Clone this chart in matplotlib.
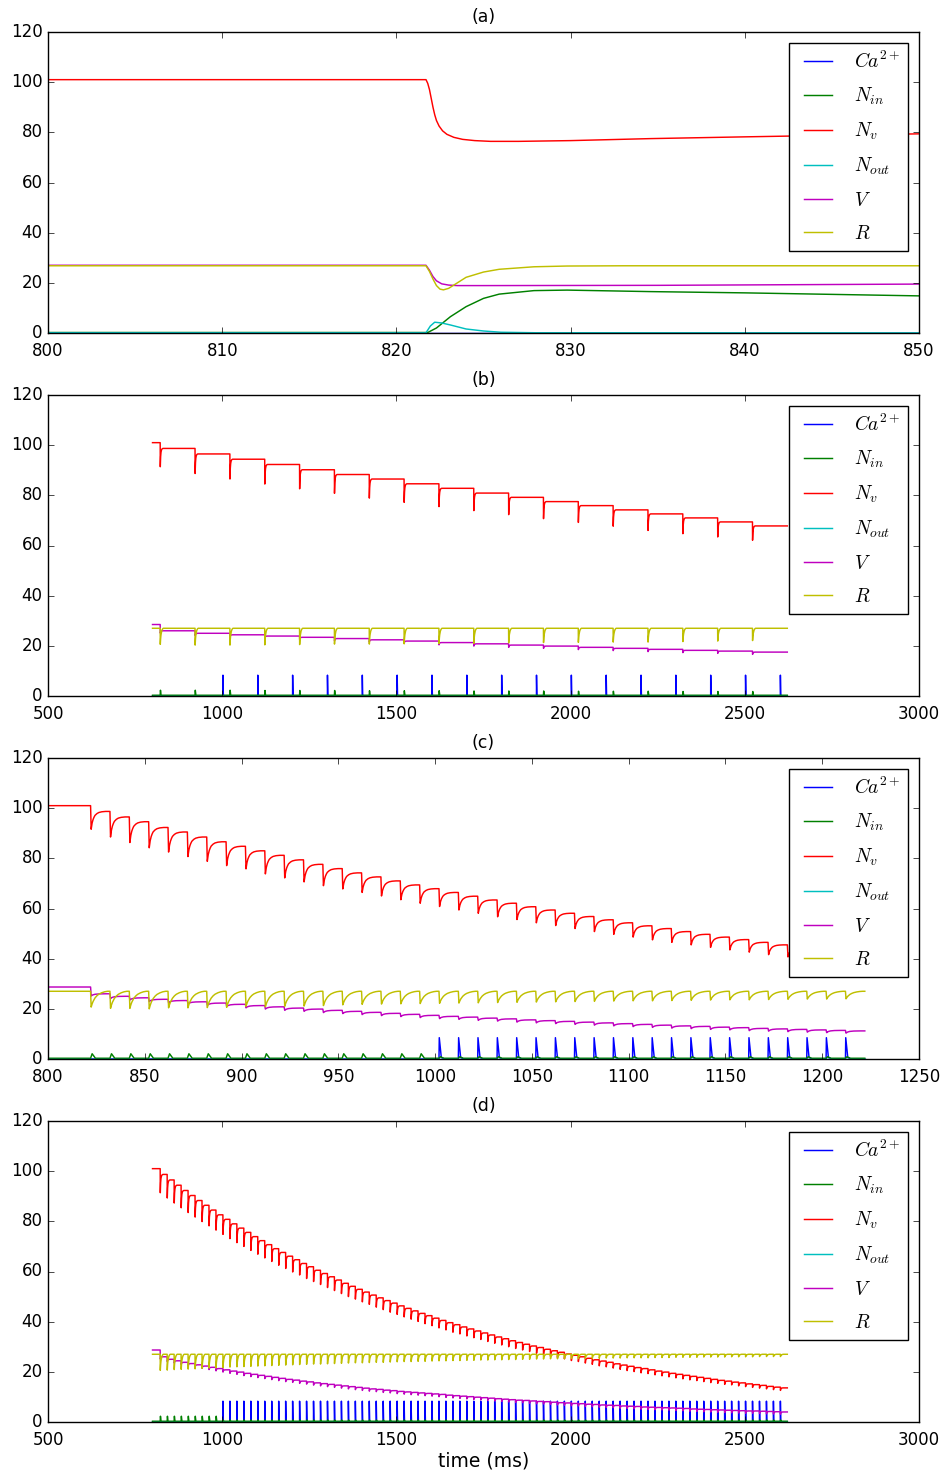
import numpy as np
import matplotlib
matplotlib.use('Agg')
import matplotlib.pyplot as plt
from matplotlib.legend_handler import HandlerLine2D

plt.style.use('classic')
plt.rcParams['font.family'] = ['DejaVu Sans']
plt.rcParams['mathtext.fontset'] = 'cm'

# ---------------- colours / labels ----------------
series_labels = [r'$Ca^{2+}$', r'$N_{in}$', r'$N_v$', r'$N_{out}$', r'$V$', r'$R$']
series_colors = ['#0000ff', '#008000', '#ff0000', '#00bfbf', '#bf00bf', '#bfbf00']
panel_titles = ['(a)', '(b)', '(c)', '(d)']

# ---------------- panel (a): single release event ----------------
a_t_ca = [800, 850]
a_ca = [0.0, 0.0]
a_t_nin = [800, 821.8, 822.3, 823.1, 824.0, 825.0, 825.9, 827.9, 829.8, 834.6, 840, 845, 850]
a_nin = [0.2, 0.2, 2.0, 6.5, 10.5, 13.8, 15.5, 16.9, 17.1, 16.5, 16.0, 15.4, 14.8]
a_t_nv = [800, 821.7, 821.8, 821.9, 822.0, 822.1, 822.2, 822.3, 822.45, 822.65, 822.9,
          823.3, 823.8, 824.5, 825.4, 827, 830, 834.6, 840, 845, 850]
a_nv = [101, 101, 99.5, 97.0, 93.5, 90.0, 87.0, 84.7, 82.5, 80.6, 79.2,
        78.0, 77.2, 76.7, 76.4, 76.4, 76.7, 77.5, 78.2, 78.8, 79.4]
a_t_nout = [800, 821.7, 821.95, 822.2, 822.6, 823.1, 824.0, 825.0, 826.0, 828.0, 850]
a_nout = [0.1, 0.1, 2.8, 4.3, 4.0, 3.2, 1.6, 0.8, 0.3, 0.1, 0.05]
a_t_v = [800, 821.7, 821.9, 822.1, 822.3, 822.6, 823.0, 823.5, 825, 835, 850]
a_v = [27.0, 27.0, 25.0, 22.5, 20.8, 19.6, 19.1, 18.9, 18.9, 19.0, 19.5]
a_t_r = [800, 821.7, 821.9, 822.1, 822.3, 822.5, 822.7, 823.0, 823.5, 824.0, 825.0,
         825.9, 827.9, 829.8, 833.0, 850]
a_r = [26.8, 26.8, 24.5, 21.5, 18.9, 17.5, 17.2, 17.8, 20.0, 22.2, 24.3,
       25.4, 26.4, 26.7, 26.8, 26.8]

# ---------------- panel (b): 100 ms stimulation ----------------
b_start, b_end = 800, 2622
b_stim_first, b_stim_period, b_n_stim = 822, 100, 18
b_ca_first, b_ca_period, b_n_ca = 1002, 100, 17
b_nv_levels = [101.0, 98.7, 96.5, 94.4, 92.3, 90.2, 88.3, 86.5, 84.6, 82.8, 80.9,
               79.2, 77.5, 75.9, 74.2, 72.6, 71.0, 69.4, 67.8]
b_nv_dips = [91.4, 88.7, 86.5, 84.5, 82.6, 80.8, 78.9, 77.2, 75.5, 73.9, 72.3,
             70.7, 69.2, 67.7, 66.0, 64.7, 63.4, 62.1]
b_v_levels = [28.5, 26.0, 25.0, 24.4, 23.9, 23.4, 22.9, 22.4, 21.9, 21.3, 20.8,
              20.3, 19.9, 19.4, 19.0, 18.6, 18.2, 17.9, 17.5]
b_r_dips = [20.6, 20.3, 20.3, 20.4, 20.5, 20.7, 20.7, 20.8, 20.9, 21.0, 21.2,
            21.3, 21.4, 21.5, 21.5, 21.7, 21.9, 22.1]
b_nin_bumps = [2.0, 2.0, 2.0, 1.9, 1.9, 1.9, 1.8, 1.8, 1.8, 1.7, 1.7, 1.7, 1.6, 1.6, 1.6, 1.5, 1.5, 1.5]
b_ca_height = 8.3

# ---------------- panel (c): 10 ms stimulation ----------------
c_start, c_end = 800, 1222
c_stim_first, c_stim_period, c_n_stim = 822, 10, 40
c_ca_first, c_ca_period, c_n_ca = 1002, 10, 22
c_nv_levels = [101.0, 98.7, 96.5, 94.6, 92.3, 90.5, 88.5, 86.6, 84.8, 83.0, 81.2,
               79.4, 77.6, 75.9, 74.2, 72.6, 71.0, 69.4, 67.9, 66.4, 64.9, 63.4,
               62.1, 60.7, 59.4, 58.1, 56.8, 55.5, 54.3, 53.1, 52.0, 50.8, 49.7,
               48.6, 47.6, 46.5, 45.5, 44.5, 43.5, 42.6, 41.6]
c_nv_dips = [91.6, 88.5, 86.3, 84.2, 82.5, 80.7, 78.8, 77.1, 75.8, 73.8, 72.2,
             70.6, 69.1, 67.8, 66.4, 65.0, 63.5, 62.1, 60.8, 59.4, 58.1, 56.7,
             55.6, 54.3, 53.2, 52.0, 50.8, 49.7, 48.6, 47.5, 46.5, 45.5, 44.5,
             43.5, 42.6, 41.6, 40.7, 39.8, 38.9, 38.1]
c_v_levels = [28.7, 26.0, 25.0, 24.4, 23.8, 23.3, 22.8, 22.3, 21.8, 21.3, 20.8,
              20.3, 19.9, 19.4, 19.0, 18.6, 18.2, 17.8, 17.4, 17.0, 16.7, 16.3,
              16.0, 15.6, 15.3, 15.0, 14.7, 14.4, 14.1, 13.8, 13.5, 13.2, 13.0,
              12.7, 12.5, 12.2, 12.0, 11.8, 11.6, 11.4, 11.2]
c_r_dips = [20.7, 20.2, 20.2, 20.0, 20.4, 20.4, 20.5, 20.6, 21.0, 20.8, 21.0,
            21.1, 21.3, 21.6, 21.8, 21.9, 22.0, 22.1, 22.2, 22.3, 22.4, 22.5,
            22.6, 22.7, 22.8, 22.9, 23.0, 23.1, 23.2, 23.2, 23.3, 23.4, 23.5,
            23.6, 23.6, 23.7, 23.8, 23.9, 23.9, 24.0]
c_nin_bump_early, c_nin_bump_late = 1.8, 0.6
c_ca_height = 8.5

# ---------------- panel (d): 20 ms stimulation ----------------
d_start, d_end = 800, 2622
d_stim_first, d_stim_period, d_n_stim = 822, 20, 90
d_ca_first, d_ca_period, d_n_ca = 1002, 20, 81
d_nv_levels = [101.0, 98.7, 96.5, 94.4, 92.3, 90.3, 88.3, 86.4, 84.5, 82.6, 80.8,
               79.0, 77.3, 75.6, 73.9, 72.3, 70.7, 69.1, 67.6, 66.1, 64.7,
               63.2, 61.9, 60.5, 59.2, 57.9, 56.6, 55.3, 54.1, 52.9, 51.8,
               50.6, 49.5, 48.4, 47.4, 46.3, 45.3, 44.3, 43.3, 42.4, 41.4,
               40.5, 39.6, 38.8, 37.9, 37.1, 36.3, 35.5, 34.7, 33.9, 33.2,
               32.4, 31.7, 31.0, 30.3, 29.7, 29.0, 28.4, 27.8, 27.1, 26.6,
               26.0, 25.4, 24.8, 24.3, 23.8, 23.2, 22.7, 22.2, 21.7, 21.3,
               20.8, 20.3, 19.9, 19.4, 19.0, 18.6, 18.2, 17.8, 17.4, 17.0,
               16.6, 16.3, 15.9, 15.6, 15.2, 14.9, 14.6, 14.2, 13.9, 13.6]
d_nv_dips = [91.4, 89.3, 87.3, 85.4, 83.5, 81.7, 79.9, 78.2, 76.5, 74.8,
             73.1, 71.5, 70.0, 68.4, 66.9, 65.4, 64.0, 62.5, 61.2, 59.8,
             58.6, 57.2, 56.0, 54.8, 53.6, 52.4, 51.2, 50.0, 49.0, 47.9,
             46.9, 45.8, 44.8, 43.8, 42.9, 41.9, 41.0, 40.1, 39.2, 38.4,
             37.5, 36.7, 35.8, 35.1, 34.3, 33.6, 32.9, 32.1, 31.4, 30.7,
             30.0, 29.3, 28.7, 28.1, 27.4, 26.9, 26.2, 25.7, 25.2, 24.5,
             24.1, 23.5, 23.0, 22.4, 22.0, 21.5, 21.0, 20.5, 20.1, 19.6,
             19.3, 18.8, 18.4, 18.0, 17.6, 17.2, 16.8, 16.5, 16.1, 15.7,
             15.4, 15.0, 14.8, 14.4, 14.1, 13.8, 13.5, 13.2, 12.9, 12.6]
d_v_levels = [28.7, 26.0, 25.0, 24.4, 23.8, 23.3, 22.8, 22.3, 21.8, 21.3, 20.8,
              20.3, 19.9, 19.4, 19.0, 18.6, 18.2, 17.8, 17.4, 17.0, 16.7,
              16.3, 16.0, 15.6, 15.3, 15.0, 14.7, 14.4, 14.1, 13.8, 13.5,
              13.2, 13.0, 12.7, 12.5, 12.2, 12.0, 11.8, 11.6, 11.4, 11.2,
              11.0, 10.7, 10.5, 10.3, 10.1, 9.9, 9.7, 9.5, 9.3, 9.1,
              8.9, 8.7, 8.6, 8.4, 8.2, 8.1, 7.9, 7.7, 7.6, 7.4,
              7.3, 7.1, 7.0, 6.8, 6.7, 6.6, 6.4, 6.3, 6.2, 6.0,
              5.9, 5.8, 5.7, 5.6, 5.5, 5.4, 5.2, 5.1, 5.0, 4.9,
              4.8, 4.7, 4.6, 4.5, 4.4, 4.4, 4.3, 4.2, 4.1, 4.0]
d_r_dips = [20.6, 20.7, 20.9, 21.0, 21.1, 21.2, 21.4, 21.5, 21.6, 21.7,
            21.9, 22.0, 22.1, 22.2, 22.3, 22.4, 22.5, 22.6, 22.7, 22.8,
            22.9, 23.0, 23.1, 23.1, 23.2, 23.3, 23.4, 23.5, 23.6, 23.6,
            23.7, 23.8, 23.8, 23.9, 24.0, 24.1, 24.1, 24.2, 24.2, 24.3,
            24.4, 24.4, 24.5, 24.5, 24.6, 24.6, 24.7, 24.7, 24.8, 24.8,
            24.9, 24.9, 25.0, 25.0, 25.1, 25.1, 25.2, 25.2, 25.2, 25.3,
            25.3, 25.3, 25.4, 25.4, 25.5, 25.5, 25.5, 25.6, 25.6, 25.6,
            25.6, 25.7, 25.7, 25.7, 25.8, 25.8, 25.8, 25.8, 25.9, 25.9,
            25.9, 25.9, 26.0, 26.0, 26.0, 26.0, 26.1, 26.1, 26.1, 26.1]
d_nin_bump_early, d_nin_bump_late = 2.0, 0.5
d_ca_height = 8.3

r_rest = 27.0
v_dip_depth = 0.9
nin_base, nout_base = 0.3, 0.15

# shape templates (ms after the drop, fraction recovered)
rec_dt = [0.0, 0.5, 1.0, 1.5, 2.0, 3.0, 4.0, 5.5, 7.5]
rec_frac = [0.0, 0.35, 0.55, 0.68, 0.78, 0.88, 0.94, 0.98, 1.0]
r_rec_dt = [0.0, 0.5, 1.0, 2.0, 3.0, 4.0, 5.5, 7.0, 8.5]
r_rec_frac = [0.0, 0.2, 0.36, 0.58, 0.72, 0.82, 0.91, 0.97, 1.0]
drop_dt = 0.3


def sawtooth(t0, t1, stims, before, after, low, rdt, rfr):
    ts, ys = [t0], [before[0]]
    for s, b, a, lo in zip(stims, before, after, low):
        ts += [s, s + drop_dt]
        ys += [b, lo]
        for dt, f in zip(rdt[1:], rfr[1:]):
            ts.append(s + drop_dt + dt)
            ys.append(lo + (a - lo) * f)
    ts.append(max(t1, ts[-1]))
    ys.append(ys[-1])
    return ts, ys


def bumps(t0, t1, times, heights, base, shape_dt, shape_frac):
    ts, ys = [t0], [base]
    for s, h in zip(times, heights):
        for dt, f in zip(shape_dt, shape_frac):
            ts.append(s + dt)
            ys.append(base + h * f)
    ts.append(max(t1, ts[-1]))
    ys.append(base)
    return ts, ys


nin_dt, nin_frac = [0.0, 0.8, 2.5], [0.0, 1.0, 0.0]
ca_dt, ca_frac = [0.0, 0.15, 1.2, 3.0], [0.0, 1.0, 0.07, 0.0]


def build_panel(start, end, stim_first, period, n_stim, ca_first, ca_period, n_ca,
                nv_levels, nv_dips, v_levels, r_dips, nin_heights, ca_height):
    stims = [stim_first + period * k for k in range(n_stim)]
    cas = [ca_first + ca_period * k for k in range(n_ca)]
    ca = bumps(start, end, cas, [ca_height] * n_ca, 0.0, ca_dt, ca_frac)
    nin = bumps(start, end, stims, nin_heights, nin_base, nin_dt, nin_frac)
    nv = sawtooth(start, end, stims, nv_levels[:-1], nv_levels[1:], nv_dips, rec_dt, rec_frac)
    nout = ([start, end], [nout_base, nout_base])
    v = sawtooth(start, end, stims, v_levels[:-1], v_levels[1:],
                 [x - v_dip_depth for x in v_levels[1:]], rec_dt, rec_frac)
    r = sawtooth(start, end, stims, [r_rest] * n_stim, [r_rest] * n_stim, r_dips, r_rec_dt, r_rec_frac)
    return [ca, nin, nv, nout, v, r]


def nin_heights_for(stim_first, period, n_stim, ca_first, early, late):
    return [early if stim_first + period * k < ca_first else late for k in range(n_stim)]


panels = []
panels.append(([(a_t_ca, a_ca), (a_t_nin, a_nin), (a_t_nv, a_nv), (a_t_nout, a_nout),
                (a_t_v, a_v), (a_t_r, a_r)], (800, 850), np.arange(800, 851, 10)))
panels.append((build_panel(b_start, b_end, b_stim_first, b_stim_period, b_n_stim,
                           b_ca_first, b_ca_period, b_n_ca, b_nv_levels, b_nv_dips,
                           b_v_levels, b_r_dips, b_nin_bumps, b_ca_height),
               (500, 3000), np.arange(500, 3001, 500)))
panels.append((build_panel(c_start, c_end, c_stim_first, c_stim_period, c_n_stim,
                           c_ca_first, c_ca_period, c_n_ca, c_nv_levels, c_nv_dips,
                           c_v_levels, c_r_dips,
                           nin_heights_for(c_stim_first, c_stim_period, c_n_stim, c_ca_first,
                                           c_nin_bump_early, c_nin_bump_late), c_ca_height),
               (800, 1250), np.arange(800, 1251, 50)))
panels.append((build_panel(d_start, d_end, d_stim_first, d_stim_period, d_n_stim,
                           d_ca_first, d_ca_period, d_n_ca, d_nv_levels, d_nv_dips,
                           d_v_levels, d_r_dips,
                           nin_heights_for(d_stim_first, d_stim_period, d_n_stim, d_ca_first,
                                           d_nin_bump_early, d_nin_bump_late), d_ca_height),
               (500, 3000), np.arange(500, 3001, 500)))


class ShiftedLine(HandlerLine2D):
    """Legend line that starts a little inside its handle box (old-style look)."""
    def get_xdata(self, legend, xdescent, ydescent, width, height, fontsize):
        x0 = -xdescent + 0.2 * width
        x1 = -xdescent + width
        return np.array([x0, x1]), np.array([0.5 * (x0 + x1)])


fig = plt.figure(figsize=(9.43, 14.7), dpi=100, facecolor='white')
W, H = 943.0, 1470.0
ax_left, ax_right = 48, 919
ax_tops = [32, 395, 758, 1121]
ax_h = 301

for i, (series, xlim, xticks) in enumerate(panels):
    top = ax_tops[i]
    ax = fig.add_axes([ax_left / W, 1 - (top + ax_h) / H, (ax_right - ax_left) / W, ax_h / H])
    ax.set_facecolor('white')
    handles = []
    for (ts, ys), col, lab in zip(series, series_colors, series_labels):
        h, = ax.plot(ts, ys, color=col, lw=1.05, label=lab)
        handles.append(h)
    ax.set_xlim(*xlim)
    ax.set_ylim(0, 120)
    ax.set_xticks(xticks)
    ax.set_yticks(np.arange(0, 121, 20))
    ax.tick_params(labelsize=12)
    ax.tick_params(axis='x', pad=6.5)
    ax.set_title(panel_titles[i], fontsize=12.5, pad=7.5)
    leg = ax.legend(handles=handles, loc='upper right', fontsize=14, handlelength=1.8,
                    handletextpad=1.13, labelspacing=0.71, borderpad=0.41,
                    borderaxespad=0.55, frameon=True, fancybox=False, numpoints=1,
                    handler_map={h: ShiftedLine() for h in handles})
    leg.get_frame().set_edgecolor('black')
    leg.get_frame().set_facecolor('white')
    if i == 3:
        ax.set_xlabel('time (ms)', fontsize=13.5, labelpad=1.5)

fig.savefig('out.png', dpi=100, facecolor='white')
